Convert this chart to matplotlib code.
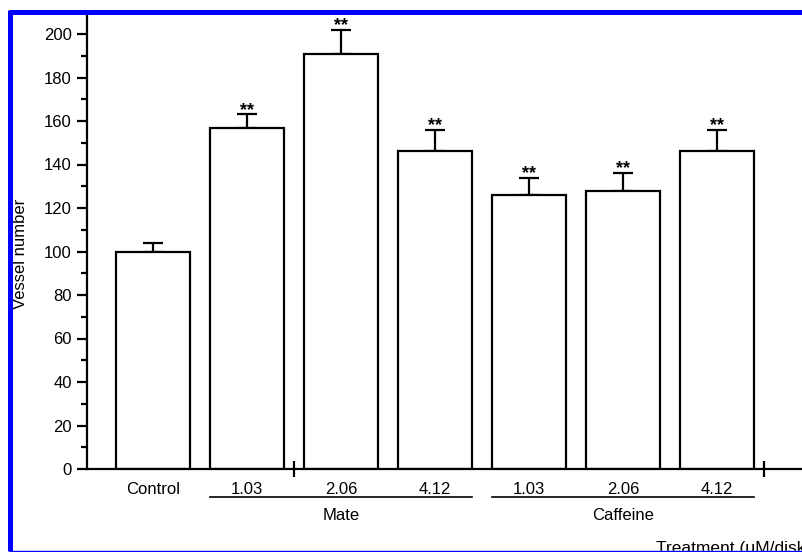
import matplotlib
matplotlib.use("Agg")
import matplotlib.pyplot as plt
from matplotlib.lines import Line2D
import matplotlib.transforms as mtransforms

plt.rcParams['font.family'] = ['Liberation Sans', 'DejaVu Sans']

# ---- data ----
tick_labels = ["Control", "1.03", "2.06", "4.12", "1.03", "2.06", "4.12"]
values = [100, 157, 191, 146, 126, 128, 146]
errors = [4, 6, 11, 10, 8, 8, 10]
stars = ["", "**", "**", "**", "**", "**", "**"]
groups = ["Mate", "Caffeine"]
group_members = [[1, 2, 3], [4, 5, 6]]

W, H = 803, 552
fig = plt.figure(figsize=(W / 100, H / 100), dpi=100)
ax_left, ax_bottom_px, ax_top_px = 87, 469, 15
ax = fig.add_axes([ax_left / W, (H - ax_bottom_px) / H, 1 - ax_left / W,
                   (ax_bottom_px - ax_top_px) / H])

x = list(range(1, len(values) + 1))
bw = 0.787
ax.bar(x, values, width=bw, color='white', edgecolor='black', linewidth=1.6, zorder=2)
ax.errorbar(x, values, yerr=[[0] * len(values), errors], fmt='none', ecolor='black',
            elinewidth=1.6, capsize=7.5, capthick=1.6, zorder=1)
for xi, v, e, s in zip(x, values, errors, stars):
    if s:
        ax.annotate(s, (xi, v + e), xytext=(0, 3), textcoords='offset points',
                    ha='center', va='center', fontsize=13, fontweight='bold')

ytop = 200 * (ax_bottom_px - ax_top_px) / (ax_bottom_px - 34)
ax.set_ylim(0, ytop)
ax.set_xlim(1 - 66 / 94, 1 + (W - 153) / 94)

ax.spines['top'].set_visible(False)
ax.spines['right'].set_visible(False)
ax.spines['left'].set_linewidth(1.6)
ax.spines['bottom'].set_linewidth(1.6)

ax.set_yticks(range(0, 201, 20))
ax.set_yticks(range(10, 201, 20), minor=True)
ax.tick_params(axis='y', which='major', length=7, width=1.6, labelsize=12, pad=4)
ax.tick_params(axis='y', which='minor', length=4, width=1.6)

ax.set_xticks(x)
ax.set_xticklabels(tick_labels)
ax.set_xticks([2.5, 7.5], minor=True)
ax.tick_params(axis='x', which='major', length=0, labelsize=12, pad=9)
ax.tick_params(axis='x', which='minor', direction='inout', length=11, width=1.6)

trans = mtransforms.blended_transform_factory(ax.transData, ax.transAxes)
line_y = -(497 - ax_bottom_px) / (ax_bottom_px - ax_top_px)
lab_y = -(515 - ax_bottom_px) / (ax_bottom_px - ax_top_px)
for g, mem in zip(groups, group_members):
    x0 = x[mem[0]] - bw / 2
    x1 = x[mem[-1]] + bw / 2
    ax.plot([x0, x1], [line_y, line_y], color='black', lw=1.2, transform=trans, clip_on=False)
    xc = (x[mem[0]] + x[mem[-1]]) / 2
    ax.text(xc, lab_y, g, transform=trans, ha='center', va='center', fontsize=12)

fig.text(20.5 / W, 1 - 254 / H, "Vessel number", rotation=90, ha='center', va='center',
         fontsize=12)
fig.text(656 / W, 1 - 541 / H, "Treatment (μM/disk)", ha='left', va='top', fontsize=12.5)

# blue frame
blue = '#0000ff'
fig.add_artist(Line2D([10.5 / W, 10.5 / W], [1 - 10 / H, 1 - 551 / H], color=blue, lw=3.6,
                      transform=fig.transFigure, zorder=10, solid_capstyle='butt'))
fig.add_artist(Line2D([8.5 / W, 1], [1 - 12 / H, 1 - 12 / H], color=blue, lw=3.6,
                      transform=fig.transFigure, zorder=10, solid_capstyle='butt'))
fig.add_artist(Line2D([8.5 / W, 1], [1 - 550.5 / H, 1 - 550.5 / H], color=blue, lw=1.0,
                      transform=fig.transFigure, zorder=10, solid_capstyle='butt'))
fig.add_artist(plt.Rectangle((0, 0), 1, 1 / H, color='white', transform=fig.transFigure,
                             zorder=9))

fig.savefig("out.png", dpi=100)
